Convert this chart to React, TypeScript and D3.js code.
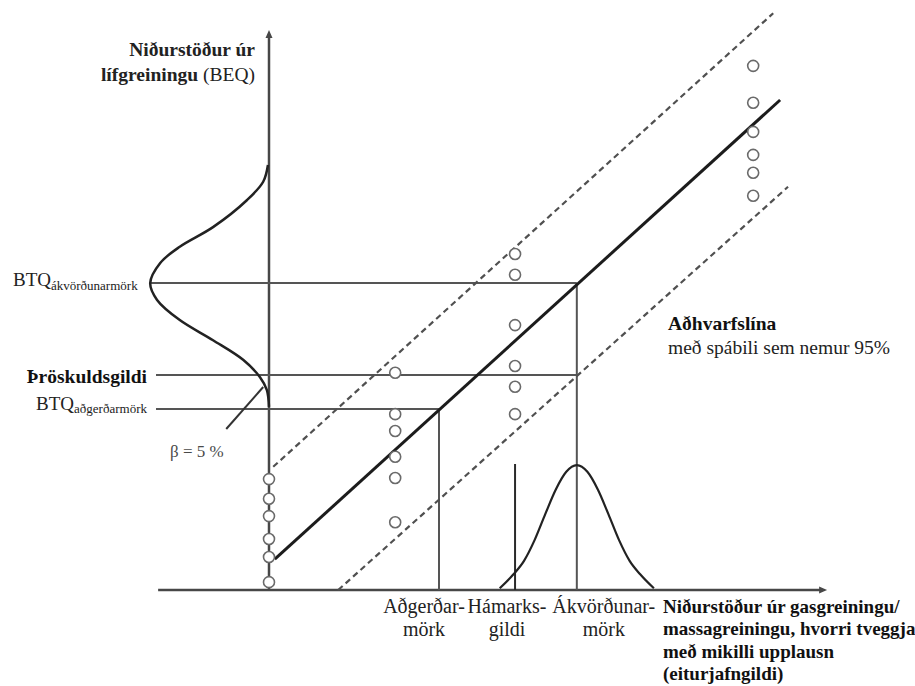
import React from 'react';
import * as d3 from 'd3';

// axis extents (data units)
const xAxisExtent = [-21, 105.7];
const yAxisExtent = [0, 100];

// regression line and 95% prediction band (end points)
const fitX = [1.1, 96.8];
const fitY = [5.5, 87.5];
const upperBandX = [0.8, 95.5];
const upperBandY = [22.0, 103.0];
const lowerBandX = [13.1, 98.3];
const lowerBandY = [0, 72.0];

// measured samples, one column per concentration
const sampleColumnsX = [0, 23.9, 46.6, 91.7];
const sampleColumnsY = [
  [19.8, 16.3, 13.2, 9.1, 5.9, 1.4],
  [38.8, 31.4, 28.4, 23.8, 20.0, 12.1],
  [60.0, 56.3, 47.3, 40.0, 36.3, 31.4],
  [93.6, 87.0, 81.8, 77.7, 74.5, 70.4],
];

// horizontal reference levels (BEQ)
const hLineNames = ['BTQákvörðunarmörk', 'Þröskuldsgildi', 'BTQaðgerðarmörk'];
const hLineY = [54.8, 38.4, 32.3];
const hLineXStart = [-22.5, -21.4, -21.4];
const hLineXEnd = [58.3, 58.3, 32.2];

// vertical reference levels (GC/MS)
const vLineNames = ['Aðgerðarmörk', 'Hámarksgildi', 'Ákvörðunarmörk'];
const vLineX = [32.2, 46.6, 58.3];
const vLineYEnd = [32.3, 22.5, 54.8];
const vLabelTop = ['Aðgerðar-', 'Hámarks-', 'Ákvörðunar-'];
const vLabelBottom = ['mörk', 'gildi', 'mörk'];

// x axis title lines
const xTitleLines = ['Niðurstöður úr gasgreiningu/', 'massagreiningu, hvorri tveggja', 'með mikilli upplausn', '(eiturjafngildi)'];

// distribution of the bioassay result around BTQ
const bioDistX = [-0.2, -1.1, -4.2, -10.6, -16.9, -20.6, -22.5, -21.2, -16.9, -10.6, -4.9, -1.7, -0.4, 0];
const bioDistY = [75.9, 72.9, 69.6, 64.8, 61.3, 58.4, 54.8, 51.8, 48.2, 44.6, 41.1, 38.0, 35.7, 32.7];

// distribution of the GC/MS result around the decision limit
const chemDistX = [43.7, 46.3, 48.3, 50.3, 52.3, 54.3, 56.3, 58.3, 60.3, 62.3, 64.3, 66.3, 68.3, 70.3, 72.9];
const chemDistY = [0.3, 2.8, 5.2, 8.9, 13.5, 17.9, 21.1, 22.3, 21.1, 17.9, 13.5, 8.9, 5.2, 2.8, 0.3];

// beta pointer
const betaX = [-8.1, -1.1];
const betaY = [28.75, 36.25];

const W = 915;
const H = 686;
const FONT = 'Liberation Serif';

export default function App() {
  const x = d3.scaleLinear().domain([0, 100]).range([269, 797]);
  const y = d3.scaleLinear().domain([0, 100]).range([590, 30]);

  const seg = d3.line<[number, number]>().x(d => x(d[0])).y(d => y(d[1]));
  const pair = (xs: number[], ys: number[]) => seg(xs.map((v, i) => [v, ys[i]] as [number, number])) || '';

  const bioLine = d3.line<[number, number]>()
    .x(d => x(d[0])).y(d => y(d[1]))
    .curve(d3.curveCatmullRom.alpha(0.5));
  const chemLine = d3.line<[number, number]>()
    .x(d => x(d[0])).y(d => y(d[1]))
    .curve(d3.curveMonotoneX);

  const x0 = x(xAxisExtent[0]);
  const x1 = x(xAxisExtent[1]);
  const yTop = y(yAxisExtent[1]);
  const yBase = y(yAxisExtent[0]);
  const xOrigin = x(0);

  const axisColor = '#474747';
  const txt = { fontFamily: FONT };
  // label centres sit a little off their lines in the original
  const vLabelShift = [-15, -8, 27];

  return (
    <svg width={W} height={H} style={{ position: 'absolute', left: 0, top: 0, background: '#fff', fontFamily: FONT }}>
      {/* axes */}
      <line x1={x0} y1={yBase} x2={x1 - 4} y2={yBase} stroke={axisColor} strokeWidth={2.5} />
      <path d={`M${x1},${yBase} L${x1 - 8},${yBase - 3.5} L${x1 - 8},${yBase + 3.5} Z`} fill={axisColor} />
      <line x1={xOrigin} y1={yBase} x2={xOrigin} y2={yTop + 4} stroke={axisColor} strokeWidth={2.5} />
      <path d={`M${xOrigin},${yTop} L${xOrigin - 3.5},${yTop + 8} L${xOrigin + 3.5},${yTop + 8} Z`} fill={axisColor} />

      {/* horizontal reference lines */}
      {hLineNames.map((n, i) => (
        <line key={n} x1={x(hLineXStart[i])} x2={x(hLineXEnd[i])} y1={y(hLineY[i])} y2={y(hLineY[i])}
          stroke="#555" strokeWidth={2} />
      ))}
      {/* vertical reference lines */}
      {vLineNames.map((n, i) => (
        <line key={n} x1={x(vLineX[i])} x2={x(vLineX[i])} y1={yBase} y2={y(vLineYEnd[i])}
          stroke={i === 1 ? '#2a2a2a' : '#555'} strokeWidth={2} />
      ))}

      {/* prediction band */}
      <path d={pair(upperBandX, upperBandY)} stroke="#505050" strokeWidth={2.2} strokeDasharray="6,4" fill="none" />
      <path d={pair(lowerBandX, lowerBandY)} stroke="#505050" strokeWidth={2.2} strokeDasharray="6,4" fill="none" />
      {/* regression line */}
      <path d={pair(fitX, fitY)} stroke="#1c1c1c" strokeWidth={3} fill="none" />

      {/* distributions */}
      <path d={bioLine(bioDistX.map((v, i) => [v, bioDistY[i]] as [number, number])) || ''}
        stroke="#222" strokeWidth={2.5} fill="none" />
      <path d={chemLine(chemDistX.map((v, i) => [v, chemDistY[i]] as [number, number])) || ''}
        stroke="#222" strokeWidth={2.2} fill="none" />
      <path d={pair(betaX, betaY)} stroke="#333" strokeWidth={2} fill="none" />

      {/* samples */}
      {sampleColumnsX.map((cx, c) =>
        sampleColumnsY[c].map((cy, j) => (
          <circle key={`${c}-${j}`} cx={x(cx)} cy={y(cy)} r={5.5} fill="#fff" stroke="#6a6a6a" strokeWidth={1.6} />
        ))
      )}

      {/* y axis title */}
      <text style={txt} x={255} y={56} textAnchor="end" fontSize={19.5} fontWeight="bold" fill="#222">Niðurstöður úr</text>
      <text style={txt} x={255} y={81} textAnchor="end" fontSize={19.5} fill="#222">
        <tspan fontWeight="bold">lífgreiningu</tspan> (BEQ)
      </text>

      {/* y reference labels */}
      <text style={txt} x={13} y={y(hLineY[0]) + 3} fontSize={19} fill="#222">
        BTQ<tspan fontSize={13} dy={4}>ákvörðunarmörk</tspan>
      </text>
      <text style={txt} x={147} y={y(hLineY[1]) + 8} textAnchor="end" fontSize={19.5} fontWeight="bold" fill="#111">Þröskuldsgildi</text>
      <text style={txt} x={147} y={y(hLineY[2]) + 1} textAnchor="end" fontSize={19} fill="#222">
        BTQ<tspan fontSize={13} dy={3}>aðgerðarmörk</tspan>
      </text>
      <text style={txt} x={170} y={457} fontSize={17} fill="#4a4a4a">β = 5 %</text>

      {/* regression label */}
      <text style={txt} x={668} y={330} fontSize={19.5} fontWeight="bold" fill="#111">Aðhvarfslína</text>
      <text style={txt} x={668} y={354} fontSize={19.5} fill="#222">með spábili sem nemur 95%</text>

      {/* x reference labels */}
      {vLineX.map((vx, i) => (
        <g key={vLineNames[i]}>
          <text style={txt} x={x(vx) + vLabelShift[i]} y={613} textAnchor="middle" fontSize={20} fill="#222">{vLabelTop[i]}</text>
          <text style={txt} x={x(vx) + vLabelShift[i]} y={636} textAnchor="middle" fontSize={20} fill="#222">{vLabelBottom[i]}</text>
        </g>
      ))}

      {/* x axis title */}
      <g fontSize={19} fontWeight="bold" fill="#111">
        {xTitleLines.map((t, i) => (
          <text key={t} style={txt} x={663} y={613 + i * 22.3}>{t}</text>
        ))}
      </g>
    </svg>
  );
}
